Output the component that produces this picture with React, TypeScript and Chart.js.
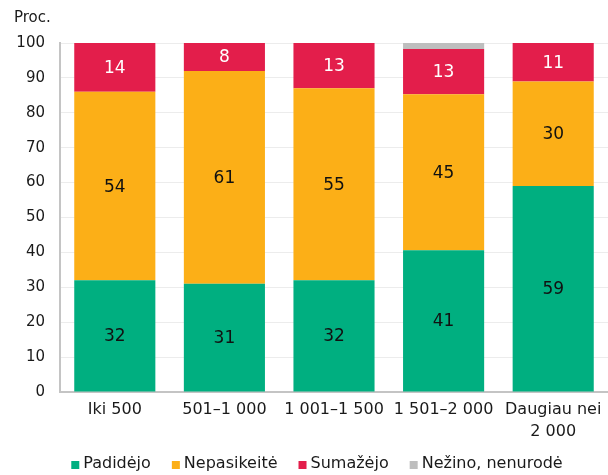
import React, { useEffect, useRef } from "react";
import { Chart, registerables } from "chart.js";

Chart.register(...registerables);

const categories: (string | string[])[] = ["Iki 500", "501–1 000", "1 001–1 500", "1 501–2 000", ["Daugiau nei", "2 000"]];
const padidejo = [32, 31, 32, 40.6, 59];
const nepasikeite = [54, 61, 55, 44.7, 30];
const sumazejo = [14, 8, 13, 13, 11];
const nezino = [0, 0, 0, 1.7, 0];
const yTicks = [0, 10, 20, 30, 40, 50, 60, 70, 80, 90, 100];

const FONT = "'DejaVu Sans', Verdana, sans-serif";
const TEXT = "#1a1a1a";

const labelPlugin = {
  id: "segLabels",
  afterDatasetsDraw(chart: any) {
    const ctx = chart.ctx;
    ctx.save();
    ctx.font = `17px ${FONT}`;
    ctx.textAlign = "center";
    ctx.textBaseline = "middle";
    chart.data.datasets.forEach((ds: any, di: number) => {
      const meta = chart.getDatasetMeta(di);
      meta.data.forEach((el: any, i: number) => {
        const v = ds.data[i];
        if (v < 5) return;
        ctx.fillStyle = ds.labelColor;
        ctx.fillText(String(Math.round(v)), el.x, (el.y + el.base) / 2 + 1);
      });
    });
    ctx.restore();
  },
  afterDraw(chart: any) {
    const ctx = chart.ctx;
    ctx.save();
    // unit label
    ctx.fillStyle = TEXT;
    ctx.font = `15px ${FONT}`;
    ctx.textAlign = "left";
    ctx.textBaseline = "middle";
    ctx.fillText("Proc.", 14, 18);
    // legend
    ctx.font = `16px ${FONT}`;
    const box = 8, gap = 4, spacing = 21, cy = 465;
    const items = chart.data.datasets.map((ds: any) => ({
      text: ds.label,
      color: ds.backgroundColor,
      w: ctx.measureText(ds.label).width,
    }));
    const total = items.reduce((s: number, it: any) => s + box + gap + it.w, 0) + spacing * (items.length - 1);
    let x = 317 - total / 2;
    items.forEach((it: any) => {
      ctx.fillStyle = it.color;
      ctx.fillRect(x, cy - box / 2, box, box);
      ctx.fillStyle = TEXT;
      ctx.fillText(it.text, x + box + gap, cy - 1);
      x += box + gap + it.w + spacing;
    });
    ctx.restore();
  },
};

export default function App() {
  const ref = useRef<HTMLCanvasElement>(null);
  useEffect(() => {
    document.body.style.margin = "0";
    const chart = new Chart(ref.current!, {
      type: "bar",
      data: {
        labels: categories,
        datasets: [
          { label: "Padidėjo", data: padidejo, backgroundColor: "#00AF80", labelColor: "#111" } as any,
          { label: "Nepasikeitė", data: nepasikeite, backgroundColor: "#FCAF17", labelColor: "#111" } as any,
          { label: "Sumažėjo", data: sumazejo, backgroundColor: "#E31E4B", labelColor: "#fff" } as any,
          { label: "Nežino, nenurodė", data: nezino, backgroundColor: "#BEBEBE", labelColor: "#111" } as any,
        ],
      },
      options: {
        responsive: false,
        animation: false,
        layout: { padding: { top: 43, right: 0, left: 0, bottom: 0 } },
        datasets: { bar: { barPercentage: 1, categoryPercentage: 0.74, borderWidth: 0 } },
        scales: {
          x: {
            stacked: true,
            grid: { display: false, drawTicks: false },
            border: { color: "#c4c4c4", width: 2 },
            ticks: {
              color: TEXT,
              font: { family: FONT, size: 16, lineHeight: 1.42 },
              maxRotation: 0,
              autoSkip: false,
              padding: 6,
            },
            afterFit: (scale: any) => {
              scale.height = 83;
            },
          },
          y: {
            stacked: true,
            min: 0,
            max: 100,
            afterBuildTicks: (axis: any) => {
              axis.ticks = yTicks.map((v) => ({ value: v }));
            },
            afterFit: (scale: any) => {
              scale.width = 60;
            },
            grid: { color: "#ececec", drawTicks: false },
            border: { color: "#c4c4c4", width: 2 },
            ticks: { color: TEXT, font: { family: FONT, size: 15 }, padding: 15 },
          },
        },
        plugins: {
          legend: { display: false },
          tooltip: { enabled: false },
        },
      },
      plugins: [labelPlugin],
    });
    return () => chart.destroy();
  }, []);
  return (
    <div style={{ width: 608, height: 475 }}>
      <canvas ref={ref} width={608} height={475} />
    </div>
  );
}
